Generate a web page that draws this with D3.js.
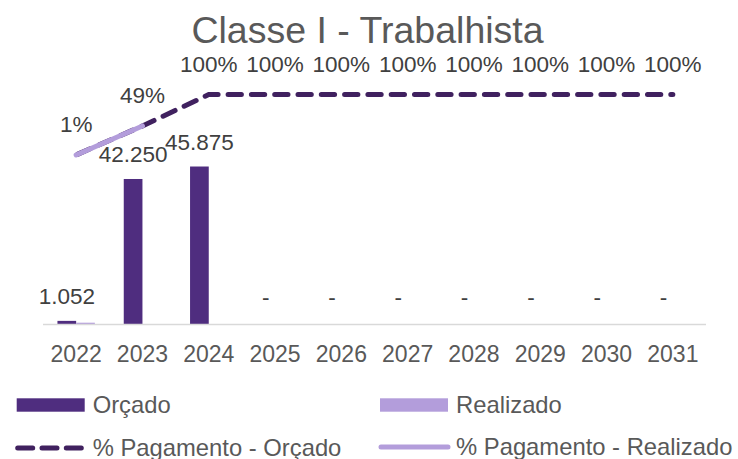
<!DOCTYPE html>
<html>
<script src="https://d3js.org/d3.v7.min.js"></script>
<style>
    body {
        margin: 0;
        background: #fff;
    }

    text {
        font-family: "Liberation Sans", Arial, sans-serif;
    }
</style>

<body>
</body>
<script>
    const years = ["2022", "2023", "2024", "2025", "2026", "2027", "2028", "2029", "2030", "2031"];
    const orcado = [1052, 42250, 45875, 0, 0, 0, 0, 0, 0, 0];
    const realizado = [520, 0, 0, 0, 0, 0, 0, 0, 0, 0];
    const pctOrcado = [0.012, 0.486, 1, 1, 1, 1, 1, 1, 1, 1];
    const pctRealizado = [0.012, 0.486];
    const title = "Classe I - Trabalhista";

    const width = 738,
        height = 459;
    const baseY = 324.5;
    const darkBar = "#4f2d7f",
        darkLine = "#40215f",
        light = "#b39ddb",
        grey = "#595959";

    const svg = d3.select("body").append("svg").attr("width", width).attr("height", height);

    const br = d3.formatLocale({ decimal: ",", thousands: ".", grouping: [3], currency: ["R$", ""] });
    const fmtNum = v => v === 0 ? "-" : br.format(",.0f")(v);
    const fmtPct = d3.format(".0%");

    const x = d3.scaleBand()
        .domain(years)
        .range([43, 706])
        .paddingInner(0.436)
        .paddingOuter(0.218);
    const xs = d3.scaleBand()
        .domain(["Orçado", "Realizado"])
        .range([0, x.bandwidth()]);
    const y = d3.scaleLinear()
        .domain([0, 50000])
        .range([baseY, baseY - 172.2]);
    const yPct = d3.scaleLinear()
        .domain([0, 1])
        .range([155.7, 94.5]);

    svg.append("text")
        .attr("x", 367.5)
        .attr("y", 43)
        .attr("text-anchor", "middle")
        .attr("font-size", 37.5)
        .attr("fill", grey)
        .text(title);

    // bars
    const rows = years.map((yr, i) => ({ yr, orc: orcado[i], real: realizado[i] }));
    const g = svg.append("g");
    g.selectAll(".orc")
        .data(rows)
        .join("rect")
        .attr("class", "orc")
        .attr("x", d => x(d.yr) + xs("Orçado"))
        .attr("width", xs.bandwidth())
        .attr("y", d => y(d.orc))
        .attr("height", d => baseY - y(d.orc))
        .attr("fill", darkBar);
    g.selectAll(".real")
        .data(rows)
        .join("rect")
        .attr("class", "real")
        .attr("x", d => x(d.yr) + xs("Realizado"))
        .attr("width", xs.bandwidth())
        .attr("y", d => y(d.real))
        .attr("height", d => baseY - y(d.real))
        .attr("fill", light);

    // axis
    svg.append("line")
        .attr("x1", 43).attr("x2", 706)
        .attr("y1", baseY).attr("y2", baseY)
        .attr("stroke", "#d9d9d9")
        .attr("stroke-width", 1.5);
    const xAxis = svg.append("g")
        .attr("transform", `translate(0,${baseY})`)
        .call(d3.axisBottom(x).tickSize(0).tickPadding(21.2));
    xAxis.select(".domain").remove();
    xAxis.selectAll("text")
        .attr("font-size", 23)
        .attr("font-family", "'Liberation Sans', Arial, sans-serif")
        .attr("fill", grey);

    // bar labels
    g.selectAll(".lbl")
        .data(rows)
        .join("text")
        .attr("class", "lbl")
        .attr("x", d => x(d.yr) + xs("Orçado") + xs.bandwidth() / 2)
        .attr("y", d => d.orc === 0 ? baseY - 20 : y(d.orc) - 17)
        .attr("text-anchor", "middle")
        .attr("font-size", 22.5)
        .attr("fill", "#404040")
        .text(d => fmtNum(d.orc));

    // lines
    const cx = yr => x(yr) + x.bandwidth() / 2;
    const line = d3.line()
        .x(d => cx(d.yr))
        .y(d => yPct(d.v));
    const orcPts = years.map((yr, i) => ({ yr, v: pctOrcado[i] }));
    const realPts = pctRealizado.map((v, i) => ({ yr: years[i], v }));

    svg.append("path")
        .datum(orcPts)
        .attr("d", line)
        .attr("fill", "none")
        .attr("stroke", darkLine)
        .attr("stroke-width", 5)
        .attr("stroke-linecap", "round")
        .attr("stroke-dasharray", "13.3 10")
        .attr("stroke-dashoffset", -2);
    svg.append("path")
        .datum(realPts)
        .attr("d", line)
        .attr("fill", "none")
        .attr("stroke", light)
        .attr("stroke-width", 5)
        .attr("stroke-linecap", "round");

    svg.selectAll(".plbl")
        .data(orcPts)
        .join("text")
        .attr("class", "plbl")
        .attr("x", d => cx(d.yr))
        .attr("y", d => yPct(d.v) - 23)
        .attr("text-anchor", "middle")
        .attr("font-size", 22.5)
        .attr("fill", "#404040")
        .text(d => fmtPct(d.v));

    // legend
    const legend = [
        { name: "Orçado", kind: "rect", color: darkBar, x: 16.7, y: 405 },
        { name: "Realizado", kind: "rect", color: light, x: 380, y: 405 },
        { name: "% Pagamento - Orçado", kind: "dash", color: darkLine, x: 16.7, y: 448 },
        { name: "% Pagamento - Realizado", kind: "line", color: light, x: 380, y: 447 }
    ];
    const lg = svg.append("g");
    legend.forEach(d => {
        if (d.kind === "rect") {
            lg.append("rect")
                .attr("x", d.x).attr("y", d.y - 6.7)
                .attr("width", 68).attr("height", 13.4)
                .attr("fill", d.color);
        } else {
            lg.append("line")
                .attr("x1", d.x + 1).attr("x2", d.x + 68)
                .attr("y1", d.y).attr("y2", d.y)
                .attr("stroke", d.color)
                .attr("stroke-width", 5)
                .attr("stroke-linecap", "round")
                .attr("stroke-dasharray", d.kind === "dash" ? "15 9.3" : null);
        }
        lg.append("text")
            .attr("x", d.x + 76)
            .attr("y", d.y + 7.5)
            .attr("font-size", 23.8)
            .attr("fill", grey)
            .text(d.name);
    });
</script>

</html>
